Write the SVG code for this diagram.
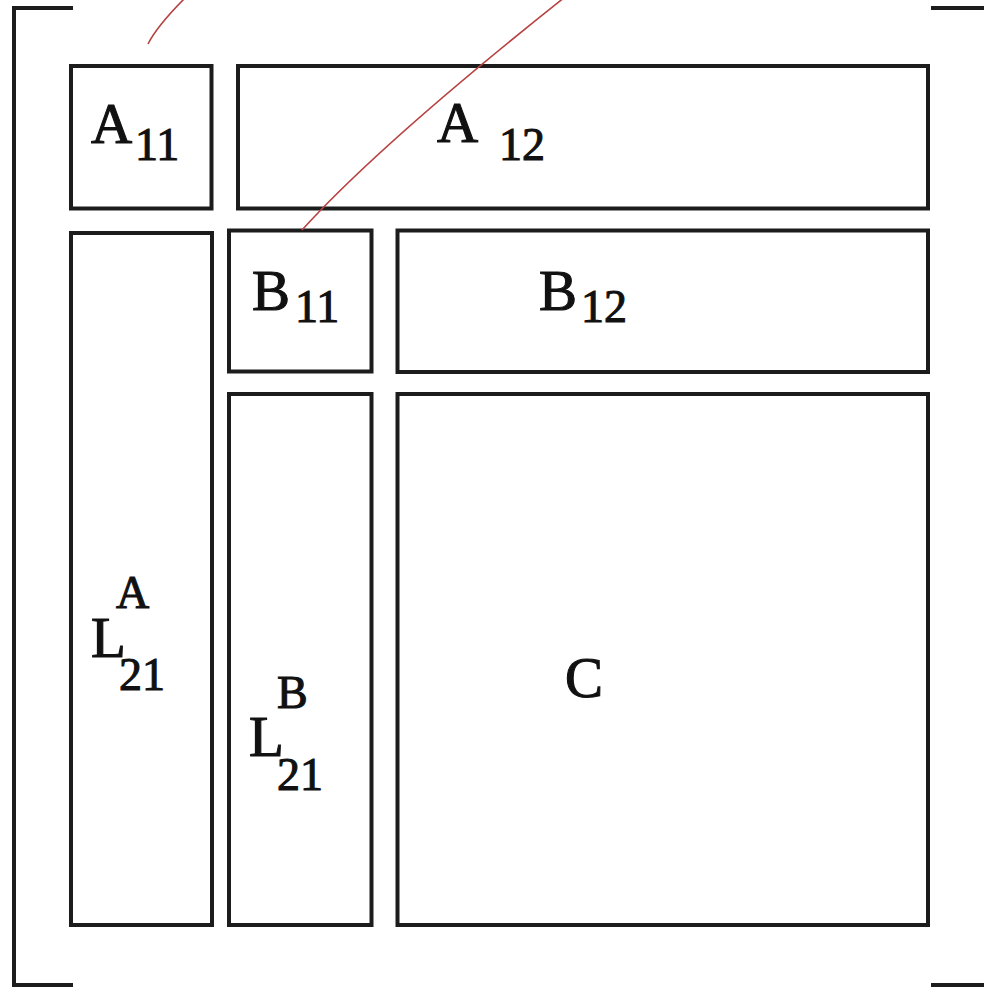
<svg xmlns="http://www.w3.org/2000/svg" width="984" height="987" viewBox="0 0 984 987">
<style>
.box{fill:none;stroke:#1c1c1c;stroke-width:4}
.br{fill:none;stroke:#1c1c1c;stroke-width:4}
.red{fill:none;stroke:#b84242;stroke-width:1.6}
text{font-family:"Liberation Serif","Times New Roman",serif;fill:#111;stroke:#111;stroke-width:1.1}
.m{font-size:57px}
.s{font-size:46px}
</style>
<rect width="984" height="987" fill="#ffffff"/>
<g id="brackets">
<path class="br" d="M73,8 H14 V985 H73"/>
<path class="br" d="M931,8 H986"/>
<path class="br" d="M931,985 H986"/>
</g>
<g id="node-A11">
<rect class="box" x="71" y="66" width="140.5" height="142.5"/>
<text class="m" x="91" y="143">A</text><text class="s" x="135" y="160">11</text>
</g>
<g id="node-A12">
<rect class="box" x="238" y="66" width="690" height="142.5"/>
<text class="m" x="437" y="142">A</text><text class="s" x="499" y="160">12</text>
</g>
<g id="node-L21A">
<rect class="box" x="71" y="233" width="141" height="692"/>
<text class="s" x="116" y="608">A</text>
<text class="m" x="91" y="657">L</text>
<text class="s" x="119" y="690">21</text>
</g>
<g id="node-B11">
<rect class="box" x="229" y="230.5" width="142.5" height="141"/>
<text class="m" x="252" y="310">B</text><text class="s" x="295" y="322">11</text>
</g>
<g id="node-B12">
<rect class="box" x="397.5" y="230.5" width="530.5" height="141.5"/>
<text class="m" x="539" y="310">B</text><text class="s" x="581" y="322">12</text>
</g>
<g id="node-L21B">
<rect class="box" x="229" y="394" width="142.5" height="531"/>
<text class="s" x="277" y="708">B</text>
<text class="m" x="249" y="756">L</text>
<text class="s" x="277" y="790">21</text>
</g>
<g id="node-C">
<rect class="box" x="397.5" y="394" width="530.5" height="531"/>
<text class="m" x="565" y="697">C</text>
</g>
<g id="connectors">
<path class="red" d="M148,44 Q157,26 186,-3"/>
<path class="red" d="M302,230 Q381,143 565,-3"/>
</g>
</svg>
